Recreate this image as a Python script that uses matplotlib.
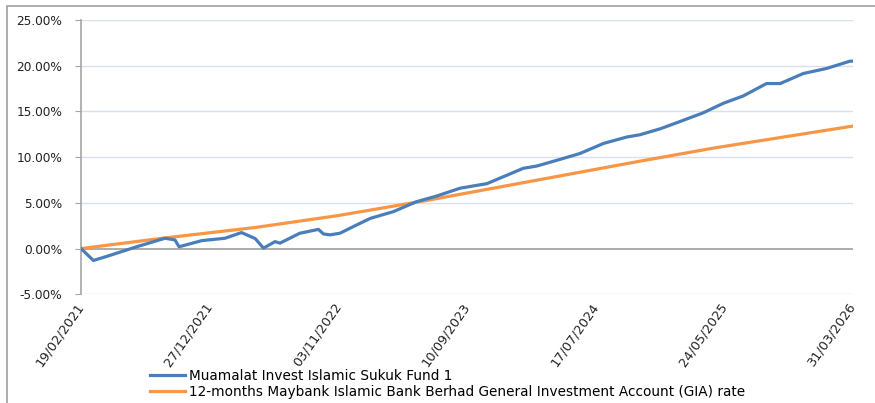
import numpy as np
import pandas as pd
import matplotlib
matplotlib.use("Agg")
from matplotlib import pyplot as plt
from matplotlib.patches import Rectangle
from matplotlib.ticker import FuncFormatter
from matplotlib.transforms import ScaledTranslation

plt.rcParams['font.family'] = ['DejaVu Sans']

start_date = pd.Timestamp('2021-02-19')

# Fund cumulative return (%), days since start
fund_days = [0, 30, 66, 131, 203, 227, 237, 292, 348, 388, 421, 441, 469, 481,
             529, 574, 586, 602, 626, 658, 699, 755, 811, 860, 916, 948, 981,
             1069, 1102, 1158, 1206, 1263, 1319, 1351, 1400, 1448, 1504, 1553,
             1601, 1657, 1690, 1746, 1802, 1859, 1866]
fund_vals = [0.0, -1.3, -0.8, 0.15, 1.13, 0.95, 0.2, 0.87, 1.13, 1.75, 1.1, 0.05,
             0.76, 0.6, 1.68, 2.1, 1.6, 1.5, 1.68, 2.4, 3.3, 4.04, 5.13, 5.75,
             6.6, 6.85, 7.1, 8.78, 9.03, 9.76, 10.4, 11.5, 12.2, 12.45, 13.1,
             13.9, 14.85, 15.9, 16.7, 18.05, 18.05, 19.15, 19.7, 20.5, 20.5]

# 12-month GIA benchmark cumulative return (%)
gia_days = [0, 200, 420, 620, 840, 1200, 1350, 1530, 1866]
gia_vals = [0.0, 1.15, 2.3, 3.6, 5.3, 8.3, 9.55, 11.0, 13.4]

tick_days = [0, 311, 622, 933, 1244, 1555, 1866]
y_ticks = [-5, 0, 5, 10, 15, 20, 25]

fund_label = 'Muamalat Invest Islamic Sukuk Fund 1'
gia_label = '12-months Maybank Islamic Bank Berhad General Investment Account (GIA) rate'

fund_dates = start_date + pd.to_timedelta(fund_days, unit='D')
gia_dates = start_date + pd.to_timedelta(gia_days, unit='D')
tick_dates = start_date + pd.to_timedelta(tick_days, unit='D')

fig = plt.figure(figsize=(8.75, 4.03), dpi=100)
ax = fig.add_axes([81 / 875, 1 - 294.3 / 403, 772 / 875, 274.3 / 403])

# outer chart frame
fig.patches.append(Rectangle((7 / 875, -0.05), 1.2, 1 - 6 / 403 + 0.05,
                             transform=fig.transFigure, fill=False,
                             edgecolor='#a0a0a0', linewidth=1.2))

for v in y_ticks:
    if v == 0:
        continue
    ax.axhline(v, color='#d9dfee', linewidth=1.0, zorder=0)
ax.axhline(0, color='#a6a6a6', linewidth=1.3, zorder=1)

ax.plot(fund_dates, fund_vals, color='#4a7ebb', linewidth=2.3,
        label=fund_label, zorder=3)
ax.plot(gia_dates, gia_vals, color='#f79646', linewidth=2.3,
        label=gia_label, zorder=2)

ax.set_xlim(tick_dates[0], tick_dates[-1])
ax.set_ylim(-5, 25)
ax.set_yticks(y_ticks)
ax.yaxis.set_major_formatter(FuncFormatter(lambda v, p: f'{v:.2f}%'))
ax.set_xticks(tick_dates)
ax.set_xticklabels([d.strftime('%d/%m/%Y') for d in tick_dates],
                   rotation=55, ha='right', va='center',
                   rotation_mode='anchor')
shift = ScaledTranslation(-4 / 100, 0, fig.dpi_scale_trans)
for lbl in ax.get_xticklabels():
    lbl.set_transform(lbl.get_transform() + shift)

for s in ['top', 'right', 'bottom']:
    ax.spines[s].set_visible(False)
ax.spines['left'].set_color('#a6a6a6')
ax.spines['left'].set_linewidth(1.2)
ax.tick_params(axis='y', length=4, color='#a6a6a6', labelsize=8.7,
               labelcolor='#222222', pad=9.5)
ax.tick_params(axis='x', length=0, labelsize=9.3, labelcolor='#222222', pad=7)

fig.legend(loc='upper left', bbox_to_anchor=(150 / 875, 1 - 369 / 403),
           frameon=False, fontsize=9.8, handlelength=2.6, handletextpad=0.25,
           labelspacing=0.15, borderaxespad=0, borderpad=0)

plt.savefig('out.png', dpi=100)
